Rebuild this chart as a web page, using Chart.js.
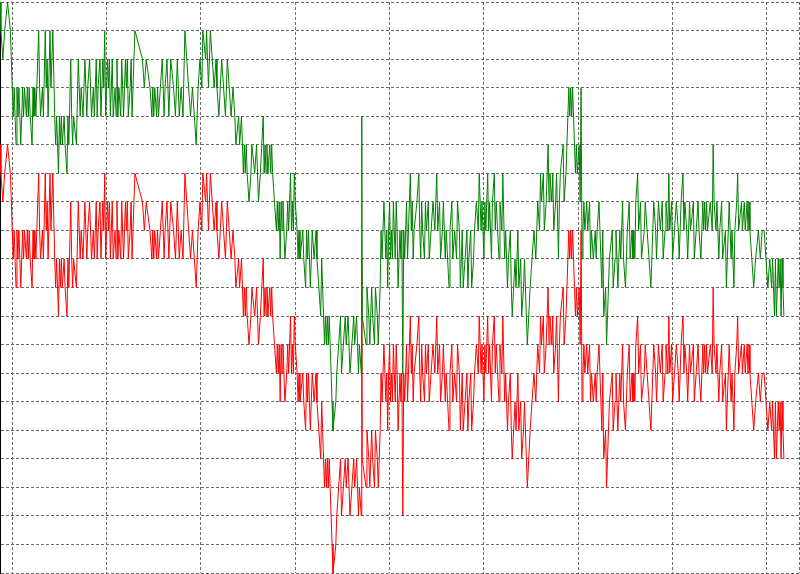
<!DOCTYPE html>
<html>
<head>
<meta charset="utf-8">
<script src="https://cdn.jsdelivr.net/npm/chart.js@4.4.1/dist/chart.umd.min.js"></script>
<style>
  html, body { margin: 0; padding: 0; background: #fff; }
  #wrap { width: 800px; height: 574px; }
</style>
</head>
<body>
<div id="wrap"><canvas id="tickChart" width="800" height="574"></canvas></div>
<script>
// tick times (seconds), one vertical grid line every 100 s
const tickSec = [-13,-12,-10,-8,-5,-2,0,
  1,2,3,4,5,6,7,8,9,10,11,12,13,15,16,17,18,19,21,22,23,24,25,
  28,29,30,32,33,35,36,37,38,40,41,43,45,
  46,47,49,50,51,52,53,55,56,58,59,60,62,63,64,65,68,70,
  72,73,75,77,78,79,80,82,84,86,87,89,90,91,93,94,96,97,98,
  99,101,102,103,104,105,106,107,109,110,111,112,113,115,116,118,120,121,122,123,125,126,127,128,130,
  138,140,142,146,148,149,150,151,153,154,155,157,
  159,161,162,164,166,168,171,173,175,177,179,181,183,
  187,189,191,193,195,197,199,201,202,205,206,208,210,212,
  214,216,217,219,222,224,226,228,230,232,234,
  236,237,240,241,243,244,245,246,247,248,249,251,253,254,257,259,261,263,
  266,267,268,269,270,271,273,274,275,276,278,280,
  281,282,283,284,285,286,287,289,291,292,293,295,296,297,298,299,300,302,
  303,304,305,308,309,311,312,313,314,316,317,318,320,322,
  323,325,327,328,329,330,331,332,333,334,335,336,337,338,339,340,343,344,
  346,348,349,351,353,354,356,358,360,362,363,365,367,368,370,370.5,371,
  375,376,378,379,381,382,384,385,387,388,390,
  391,392,394,395,396,397,398,399,400,401,402,403,404,405,406,407,408,409,411,412,413,414,415,
  416,417,418,419,420,422,423,424,425,426,429,431,432,433,434,435,437,438,439,441,442,444,446,448,450,451,
  453,454,456,457,459,460,463,464,466,467,469,471,472,474,475,476,477,478,480,482,483,484,486,487,489,490,492,
  494,495,497,498,500,501,502,504,505,506,508,509,511,512,513,516,517,519,520,
  522,523,525,526,528,529,530,533,534,536,537,539,540,542,543,545,546,
  549,551,553,555,557,559,560,
  561,563,564,566,568,569,570,572,573,574,576,577,579,580,581,584,585,587,589,
  590,591,592,593,594,595,596,597,598,599,601,602,603,604,
  605,606,607,609,610,612,613,614,616,618,619,620,
  622,624,625,626,627,629,630,631,633,
  636,637,639,640,642,644,645,647,648,650,652,654,655,
  657,658,659,660,661,663,664,666,667,670,671,673,675,677,
  679,680,682,683,685,687,689,690,692,693,695,696,697,
  699,700,702,704,706,707,709,711,712,713,715,716,718,719,722,723,725,727,728,730,732,
  733,734,735,736,737,740,742,743,744,746,747,749,750,
  752,753,756,757,759,760,762,763,765,766,768,769,
  770,773,774,776,777,779,780,781,782,
  784,786,788,791,793,795,797,
  799,801,803,805,806,808,809,810,811,812,813,814,815,816,817,818];

// green line (ask), in pips above the bottom of the window
const askPips = [20,19,18,19,20,19,17,
  16,17,16,15,17,16,17,16,15,16,17,16,17,16,17,16,17,16,15,17,16,17,16,
  19,17,16,17,16,19,17,18,16,19,17,19,16,
  15,16,14,16,15,16,15,16,15,14,16,15,18,16,15,16,15,18,
  16,17,16,18,17,16,17,18,16,17,16,18,16,17,18,16,18,17,19,
  16,18,17,18,16,17,18,16,17,16,18,16,17,16,18,16,18,17,18,16,17,18,16,17,19,
  18,17,18,17,16,17,16,17,16,17,16,17,
  18,16,17,18,16,18,17,16,18,16,17,16,19,
  17,16,17,16,15,17,18,17,19,18,19,17,19,18,
  17,18,17,16,18,17,16,18,17,16,17,
  16,15,16,15,16,15,14,15,14,15,14,13,14,15,14,15,13,14,
  16,14,15,14,15,14,15,14,15,14,13,12,
  13,12,13,11,13,12,13,11,12,13,12,14,12,13,12,14,13,12,
  11,12,11,12,11,10,12,11,12,10,11,12,11,12,
  11,10,9,11,10,9,8,9,8,9,8,9,8,7,6,5,6,7,
  8,9,7,8,9,8,9,7,8,9,8,9,7,8,7,16,9,
  8,10,9,8,10,9,8,10,9,8,10,
  12,11,13,12,11,12,10,12,13,11,12,11,13,12,11,13,12,10,12,11,12,7,12,
  11,12,13,11,12,14,12,13,11,12,13,14,12,11,13,12,11,13,12,13,11,12,13,12,14,12,
  13,11,12,13,11,12,10,12,13,11,12,11,13,12,10,11,12,10,11,12,10,11,12,10,11,12,13,
  12,14,12,13,11,13,12,14,12,13,11,13,14,12,13,11,13,12,14,
  11,12,10,11,12,10,9,11,10,12,10,11,9,10,11,9,8,
  10,11,12,11,13,12,14,
  13,14,12,13,15,13,14,13,14,12,13,14,11,13,14,15,13,14,16,
  17,16,17,16,17,16,15,14,15,14,15,13,17,11,
  12,13,12,13,12,13,11,12,11,12,11,12,
  13,11,10,12,9,10,8,9,11,
  12,10,11,12,10,12,11,13,11,10,12,13,11,
  12,11,12,11,13,14,12,13,11,12,13,12,11,10,
  12,13,12,11,13,12,13,11,12,13,12,14,12,
  13,11,12,13,12,11,13,14,12,13,12,11,13,12,13,11,12,13,12,11,13,
  12,13,12,13,12,13,12,15,13,12,13,11,12,
  13,11,12,10,12,13,11,12,10,12,13,14,
  12,13,12,13,12,13,12,13,12,
  11,10,11,12,11,12,12,
  11,10,11,10,11,9,11,9,10,11,10,11,9,11,10,9];

// red line (bid)
const bidPips = [15,14,13,14,15,14,12,
  11,12,11,10,12,11,12,11,10,11,12,11,12,11,12,11,12,11,10,12,11,12,11,
  14,12,11,12,11,14,12,13,11,14,12,14,11,
  10,11,9,11,10,11,10,11,10,9,11,10,13,11,10,11,10,13,
  11,12,11,13,12,11,12,13,11,12,11,13,11,12,13,11,13,12,14,
  11,13,12,13,11,12,13,11,12,11,13,11,12,11,13,11,13,12,13,11,12,13,11,12,14,
  13,12,13,12,11,12,11,12,11,12,11,12,
  13,11,12,13,11,13,12,11,13,11,12,11,14,
  12,11,12,11,10,12,13,12,14,13,14,12,14,13,
  12,13,12,11,13,12,11,13,12,11,12,
  11,10,11,10,11,10,9,10,9,10,9,8,9,10,9,10,8,9,
  11,9,10,9,10,9,10,9,10,9,8,7,
  8,7,8,6,8,7,8,6,7,8,7,9,7,8,7,9,8,7,
  6,7,6,7,6,5,7,6,7,5,6,7,6,7,
  6,5,4,6,5,4,3,4,3,4,3,4,3,2,1,0,1,2,
  3,4,2,3,4,3,4,2,3,4,3,4,2,3,2,11,4,
  3,5,4,3,5,4,3,5,4,3,5,
  7,6,8,7,6,7,5,7,8,6,7,6,8,7,6,8,7,5,7,6,7,2,7,
  6,7,8,6,7,9,7,8,6,7,8,9,7,6,8,7,6,8,7,8,6,7,8,7,9,7,
  8,6,7,8,6,7,5,7,8,6,7,6,8,7,5,6,7,5,6,7,5,6,7,5,6,7,8,
  7,9,7,8,6,8,7,9,7,8,6,8,9,7,8,6,8,7,9,
  6,7,5,6,7,5,4,6,5,7,5,6,4,5,6,4,3,
  5,6,7,6,8,7,9,
  8,9,7,8,10,8,9,8,9,7,8,9,6,8,9,10,8,9,11,
  12,11,12,11,12,11,10,9,10,9,10,8,12,6,
  7,8,7,8,7,8,6,7,6,7,6,7,
  8,6,5,7,4,5,3,4,6,
  7,5,6,7,5,7,6,8,6,5,7,8,6,
  7,6,7,6,8,9,7,8,6,7,8,7,6,5,
  7,8,7,6,8,7,8,6,7,8,7,9,7,
  8,6,7,8,7,6,8,9,7,8,7,6,8,7,8,6,7,8,7,6,8,
  7,8,7,8,7,8,7,10,8,7,8,6,7,
  8,6,7,5,7,8,6,7,5,7,8,9,
  7,8,7,8,7,8,7,8,7,
  6,5,6,7,6,7,7,
  6,5,6,5,6,4,6,4,5,6,5,6,4,6,5,4];

const gridSec = [0, 100, 200, 300, 400, 500, 600, 700, 800];
const timeMin = -13, timeMax = 834;
const pipMin = 0, pipMax = 20;

function toPoints(vals) {
  return vals.map((v, i) => ({ x: tickSec[i], y: v }));
}

const gridColor = '#6a6a6a';

const ctx = document.getElementById('tickChart').getContext('2d');
const tickChart = new Chart(ctx, {
  type: 'line',
  data: {
    datasets: [{
      label: 'Ask',
      data: toPoints(askPips),
      borderColor: '#008000',
      borderWidth: 1,
      pointRadius: 0,
      tension: 0
    }, {
      label: 'Bid',
      data: toPoints(bidPips),
      borderColor: '#ff0000',
      borderWidth: 1,
      pointRadius: 0,
      tension: 0
    }]
  },
  options: {
    responsive: false,
    animation: false,
    devicePixelRatio: 1,
    layout: { padding: { left: 0, right: 1, top: 2, bottom: 1 } },
    plugins: { legend: { display: false }, tooltip: { enabled: false } },
    scales: {
      x: {
        type: 'linear',
        min: timeMin,
        max: timeMax,
        afterBuildTicks: scale => {
          scale.ticks = gridSec.concat([timeMax]).map(v => ({ value: v }));
        },
        ticks: { display: false },
        grid: { color: gridColor, drawTicks: false },
        border: { display: false, dash: [3, 2] }
      },
      y: {
        min: pipMin,
        max: pipMax,
        ticks: { display: false, stepSize: 1 },
        grid: { color: gridColor, drawTicks: false },
        border: { display: true, color: '#000', width: 1, dash: [3, 2] }
      }
    }
  }
});
</script>
</body>
</html>
